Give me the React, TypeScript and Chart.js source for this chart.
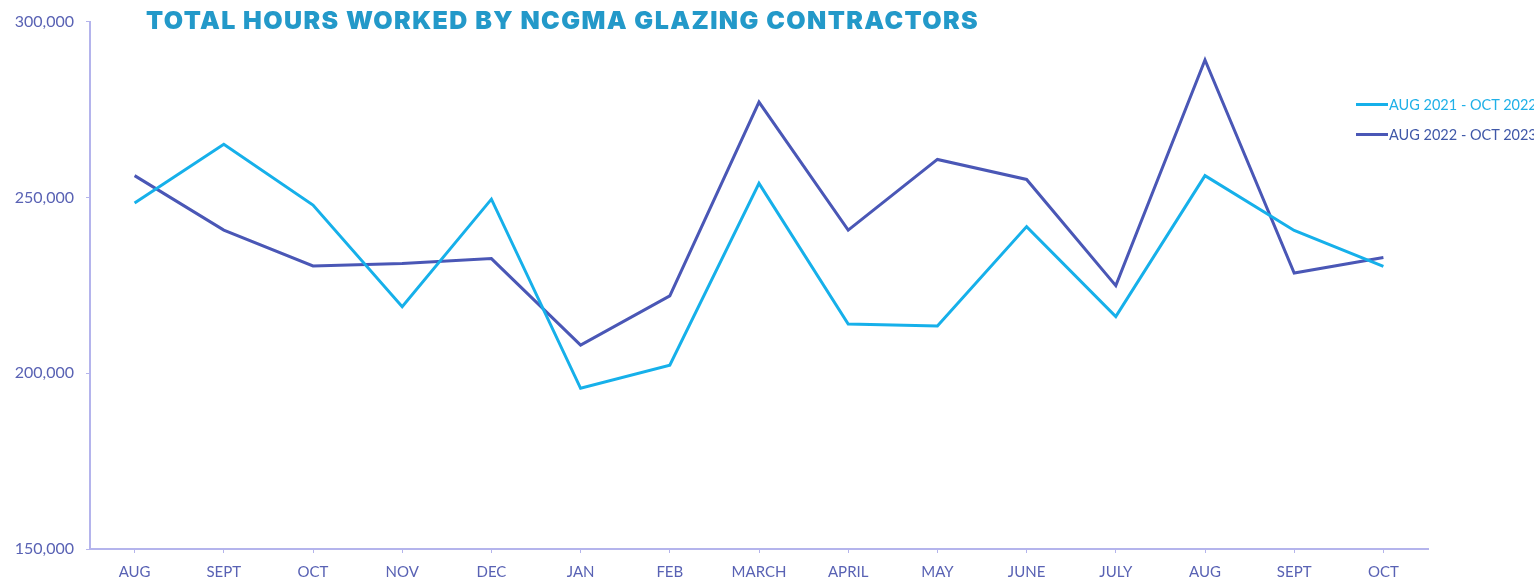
import React, { useEffect, useRef } from "react";
import { Chart, registerables } from "chart.js";

Chart.register(...registerables);

const TITLE = "TOTAL HOURS WORKED BY NCGMA GLAZING CONTRACTORS";
const months = ["AUG", "SEPT", "OCT", "NOV", "DEC", "JAN", "FEB", "MARCH", "APRIL", "MAY", "JUNE", "JULY", "AUG", "SEPT", "OCT"];
const seriesLabels = ["AUG 2021 - OCT 2022", "AUG 2022 - OCT 2023"];
const hours2021to2022 = [248400, 265100, 247800, 218900, 249500, 195700, 202300, 254000, 214000, 213400, 241700, 216100, 256200, 240600, 230400];
const hours2022to2023 = [256200, 240700, 230500, 231200, 232600, 208000, 222000, 277100, 240700, 260800, 255100, 224900, 289100, 228500, 232900];
const seriesColors = ["#16b0ea", "#4a57b6"];
const yTicks = [150000, 200000, 250000, 300000];

const TICK_COLOR = "#5962b4";
const AXIS_COLOR = "#b4b4ec";

export default function App() {
  const ref = useRef<HTMLCanvasElement | null>(null);

  useEffect(() => {
    document.body.style.margin = "0";
    const ctx = ref.current!;
    const chart = new Chart(ctx, {
      type: "line",
      data: {
        labels: months,
        datasets: [
          {
            label: seriesLabels[0],
            data: hours2021to2022,
            borderColor: seriesColors[0],
            backgroundColor: seriesColors[0],
            borderWidth: 3,
            pointRadius: 0,
            tension: 0,
          },
          {
            label: seriesLabels[1],
            data: hours2022to2023,
            borderColor: seriesColors[1],
            backgroundColor: seriesColors[1],
            borderWidth: 3,
            pointRadius: 0,
            tension: 0,
          },
        ],
      },
      options: {
        animation: false,
        responsive: false,
        maintainAspectRatio: false,
        layout: { padding: { left: 0, top: 20, right: 106, bottom: 0 } },
        plugins: { legend: { display: false }, title: { display: false }, tooltip: { enabled: false } },
        scales: {
          x: {
            offset: true,
            grid: { display: true, drawOnChartArea: false, drawTicks: true, tickLength: 4, color: AXIS_COLOR, offset: false },
            border: { display: true, color: AXIS_COLOR, width: 2 },
            ticks: { color: TICK_COLOR, font: { family: "Lato", size: 15 }, padding: 10, maxRotation: 0, autoSkip: false },
            afterFit: (s: any) => { s.height = 33; },
          },
          y: {
            min: 150000,
            max: 300000,
            afterBuildTicks: (s: any) => { s.ticks = yTicks.map((v) => ({ value: v })); },
            grid: { display: true, drawOnChartArea: false, drawTicks: true, tickLength: 4, color: AXIS_COLOR },
            border: { display: true, color: AXIS_COLOR, width: 2 },
            ticks: {
              color: TICK_COLOR,
              font: { family: "Lato", size: 16 },
              padding: 12,
              callback: (v: any) => Number(v).toLocaleString("en-US"),
            },
            afterFit: (s: any) => { s.width = 90; },
          },
        },
      },
    });
    return () => chart.destroy();
  }, []);

  return (
    <div style={{ position: "fixed", left: 0, top: 0, width: 1534, height: 582, background: "#fff", overflow: "hidden" }}>
      <canvas ref={ref} width={1534} height={582} style={{ position: "absolute", left: 0, top: 0 }} />
      <div
        style={{
          position: "absolute",
          left: 146,
          top: 4,
          fontFamily: "Inter",
          fontWeight: 900,
          fontSize: 25,
          letterSpacing: 1.4,
          color: "#2399c9",
          whiteSpace: "nowrap",
          lineHeight: "32px",
        }}
      >
        {TITLE}
      </div>
      <div style={{ position: "absolute", left: 1356, top: 89, fontFamily: "Lato", fontSize: 14.5 }}>
        {seriesLabels.map((l, i) => (
          <div key={l} style={{ display: "flex", alignItems: "center", height: 30, whiteSpace: "nowrap", color: i === 0 ? "#1fb0e8" : "#3f58a8" }}>
            <span style={{ display: "inline-block", width: 32, height: 3, background: seriesColors[i], marginRight: 1 }} />
            {l}
          </div>
        ))}
      </div>
    </div>
  );
}
